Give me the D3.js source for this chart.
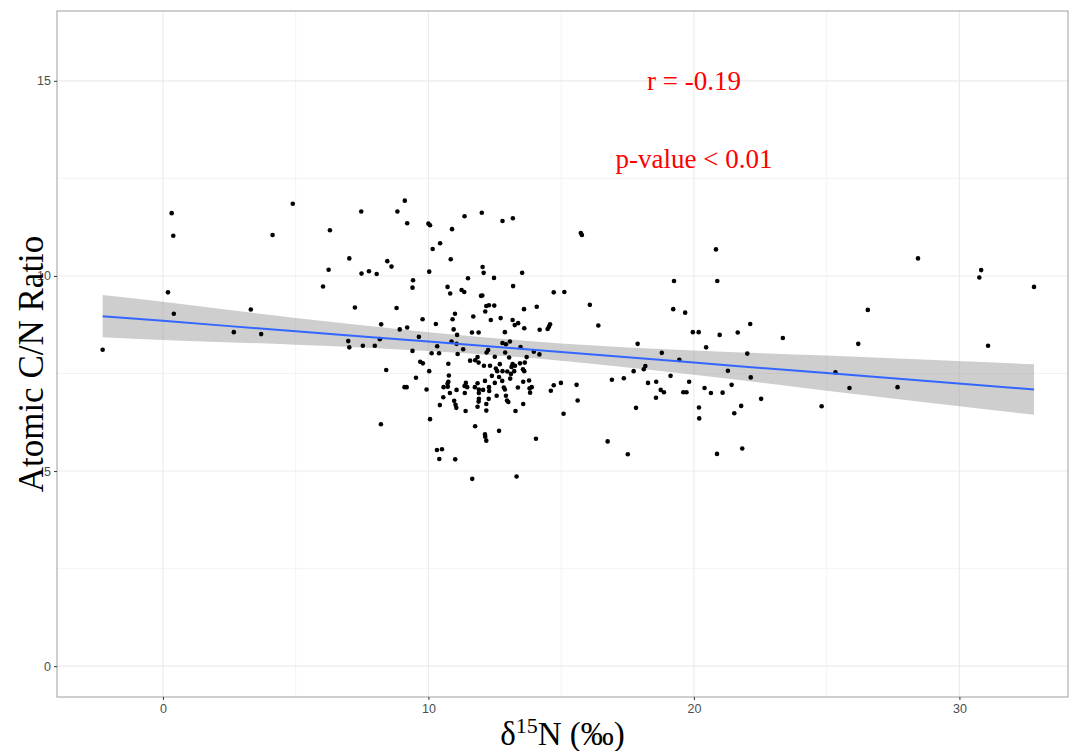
<!DOCTYPE html>
<html>
<head>
<meta charset="utf-8">
<script src="https://cdn.jsdelivr.net/npm/d3@7"></script>
<style>
  html, body { margin: 0; padding: 0; background: #fff; }
  svg { display: block; }
</style>
</head>
<body>
<div id="chart"></div>
<script>
// d15N (x) and atomic C/N (y)
const d15N = [
  0.33,0.39,4.89,7.47,4.13,6.29,7.02,6.24,7.48,7.76,
  8.05,6.03,0.19,7.23,0.41,3.31,2.67,3.70,-2.27,6.98,
  7.02,7.53,7.98,8.17,8.22,8.21,8.83,9.11,9.20,10.00,
  10.06,10.89,11.36,12.01,12.79,13.18,10.44,10.16,8.45,8.61,
  10.84,10.03,12.04,12.08,13.53,11.49,12.47,9.42,9.40,10.72,
  11.25,11.35,10.82,13.19,14.72,11.98,12.03,8.80,12.28,12.48,
  12.18,12.14,13.60,14.08,11.00,10.91,11.69,9.78,12.35,12.72,
  13.17,13.25,13.38,14.58,14.54,14.49,14.19,13.61,8.92,9.20,
  10.28,10.95,11.08,11.64,11.89,12.88,9.64,10.87,11.06,10.33,
  12.79,12.92,13.07,13.47,11.31,12.19,12.25,12.89,13.97,14.18,
  9.40,10.12,10.40,11.10,11.85,12.50,13.04,13.70,11.76,11.57,
  11.89,9.69,9.79,10.75,12.09,12.32,12.69,13.17,13.45,13.63,
  13.13,13.26,12.54,8.41,10.03,12.59,12.79,12.97,13.23,13.56,
  13.61,10.77,12.39,12.66,13.11,9.53,11.41,11.85,12.13,12.50,
  12.78,13.08,13.57,13.79,10.75,10.72,9.10,9.18,9.93,10.57,
  10.73,11.36,11.46,11.75,11.90,12.06,12.28,12.29,12.84,12.88,
  13.37,13.81,13.89,11.06,10.81,11.37,11.90,12.57,12.92,13.83,
  10.56,10.97,11.90,11.89,12.27,12.96,13.01,10.43,11.02,11.85,
  11.05,12.18,13.28,11.40,13.57,12.18,10.06,11.76,12.66,12.13,
  12.14,12.18,14.05,10.32,10.51,10.41,11.01,11.65,13.32,15.74,
  15.78,20.83,19.25,20.88,15.12,16.08,19.22,19.67,16.40,19.96,
  20.18,20.97,21.65,22.12,23.35,17.88,20.46,18.79,22.01,19.45,
  18.17,18.11,17.73,21.28,25.33,19.12,22.14,16.91,17.36,19.82,
  18.27,18.58,14.99,14.72,15.58,21.42,14.61,18.75,18.87,19.60,
  19.72,20.40,20.64,21.08,15.62,18.57,22.53,15.09,17.82,20.19,
  20.20,21.52,21.78,24.81,16.75,17.51,20.87,21.82,28.44,30.82,
  30.75,32.81,26.55,26.19,31.08,25.86,27.67
];
const cnRatio = [
  11.61,11.03,11.85,11.65,11.05,11.17,10.45,10.16,10.06,10.12,
  10.05,9.73,9.58,9.19,9.03,9.14,8.56,8.51,8.11,8.33,
  8.17,8.21,8.21,8.38,8.76,6.20,11.65,11.93,11.35,11.34,
  11.30,11.20,11.53,11.62,11.41,11.48,10.84,10.69,10.38,10.24,
  10.43,10.11,10.23,10.08,10.08,9.94,9.95,9.89,9.70,9.72,
  9.64,9.59,9.55,9.74,9.58,9.49,9.50,9.18,9.25,9.24,
  9.23,9.09,9.15,9.21,9.03,8.89,8.96,8.89,8.87,8.92,
  8.87,8.74,8.79,8.76,8.70,8.64,8.62,8.66,8.63,8.68,
  8.77,8.63,8.49,8.55,8.55,8.56,8.44,8.32,8.26,8.20,
  8.28,8.25,8.32,8.18,8.12,8.04,8.10,8.04,8.06,7.99,
  8.08,8.02,8.02,8.00,7.92,7.93,7.91,7.92,7.84,7.83,
  7.78,7.80,7.76,7.75,7.70,7.70,7.74,7.74,7.76,7.78,
  7.67,7.70,7.63,7.59,7.56,7.56,7.56,7.55,7.56,7.61,
  7.56,7.45,7.44,7.41,7.49,7.39,7.26,7.25,7.31,7.26,
  7.31,7.37,7.29,7.32,7.29,7.24,7.15,7.15,7.09,7.15,
  7.16,7.18,7.15,7.15,7.09,7.08,7.15,7.05,7.14,7.09,
  7.14,7.12,7.15,7.08,7.00,7.00,7.00,6.93,6.93,7.01,
  6.89,6.80,6.85,6.78,6.85,6.81,6.77,6.69,6.70,6.65,
  6.62,6.55,6.54,6.54,6.72,6.72,6.33,6.15,6.03,5.94,
  5.88,5.78,5.83,5.54,5.56,5.31,5.30,4.80,4.86,11.10,
  11.05,10.68,9.87,9.87,9.59,9.26,9.15,9.06,8.73,8.56,
  8.56,8.49,8.55,8.77,8.41,8.26,8.17,8.03,8.01,7.85,
  7.69,7.61,7.56,7.57,7.53,7.44,7.40,7.34,7.38,7.29,
  7.26,7.29,7.26,7.20,7.21,7.21,7.06,7.08,7.02,7.02,
  7.02,7.13,7.00,7.01,6.81,6.88,6.85,6.47,6.62,6.63,
  6.35,6.48,6.67,6.66,5.76,5.43,5.44,5.58,10.45,10.15,
  9.96,9.72,9.13,8.26,8.21,7.13,7.15
];

// lm smooth + 95% band
const fitX  = [-2.27, 0, 5, 10, 15, 20, 25, 32.81];
const fitY  = [8.97, 8.85, 8.58, 8.32, 8.05, 7.78, 7.51, 7.09];
const fitLo = [8.43, 8.36, 8.24, 8.08, 7.83, 7.47, 7.06, 6.44];
const fitHi = [9.51, 9.34, 8.92, 8.56, 8.27, 8.09, 7.96, 7.74];

const xTicks = [0, 10, 20, 30];
const xMinor = [5, 15, 25];
const yTicks = [0, 5, 10, 15];
const yMinor = [2.5, 7.5, 12.5];

const noteText = ['r = -0.19', 'p-value < 0.01'];
const noteX = [20, 20];
const noteY = [15, 13];

const width = 1070, height = 751;
const margin = {top: 11, right: 2, bottom: 54, left: 57};

const svg = d3.select('#chart')
  .append('svg')
  .attr('width', width)
  .attr('height', height);

const x = d3.scaleLinear()
  .domain([-3.99, 34.09])
  .range([margin.left, width - margin.right]);

const y = d3.scaleLinear()
  .domain([-0.79, 16.79])
  .range([height - margin.bottom, margin.top]);

const grid = svg.append('g');

grid.selectAll('.ymin').data(yMinor).join('line')
  .attr('x1', x.range()[0]).attr('x2', x.range()[1])
  .attr('y1', d => y(d)).attr('y2', d => y(d))
  .attr('stroke', '#f0f0f0').attr('stroke-width', 0.8);
grid.selectAll('.xmin').data(xMinor).join('line')
  .attr('y1', y.range()[0]).attr('y2', y.range()[1])
  .attr('x1', d => x(d)).attr('x2', d => x(d))
  .attr('stroke', '#f0f0f0').attr('stroke-width', 0.8);
grid.selectAll('.ymaj').data(yTicks).join('line')
  .attr('x1', x.range()[0]).attr('x2', x.range()[1])
  .attr('y1', d => y(d)).attr('y2', d => y(d))
  .attr('stroke', '#ebebeb').attr('stroke-width', 1.1);
grid.selectAll('.xmaj').data(xTicks).join('line')
  .attr('y1', y.range()[0]).attr('y2', y.range()[1])
  .attr('x1', d => x(d)).attr('x2', d => x(d))
  .attr('stroke', '#ebebeb').attr('stroke-width', 1.1);

// confidence band
const band = fitX.map((d, i) => ({x: d, lo: fitLo[i], hi: fitHi[i]}));
svg.append('path')
  .datum(band)
  .attr('d', d3.area()
    .x(d => x(d.x))
    .y0(d => y(d.lo))
    .y1(d => y(d.hi))
    .curve(d3.curveMonotoneX))
  .attr('fill', '#999999')
  .attr('fill-opacity', 0.48);

// points
svg.append('g')
  .selectAll('circle')
  .data(d15N.map((d, i) => [d, cnRatio[i]]))
  .join('circle')
  .attr('cx', d => x(d[0]))
  .attr('cy', d => y(d[1]))
  .attr('r', 2.3)
  .attr('fill', '#000');

// fit line
svg.append('path')
  .datum(fitX.map((d, i) => [d, fitY[i]]))
  .attr('d', d3.line().x(d => x(d[0])).y(d => y(d[1])).curve(d3.curveMonotoneX))
  .attr('fill', 'none')
  .attr('stroke', '#3366FF')
  .attr('stroke-width', 2);

// panel border
svg.append('rect')
  .attr('x', x.range()[0]).attr('y', y.range()[1])
  .attr('width', x.range()[1] - x.range()[0])
  .attr('height', y.range()[0] - y.range()[1])
  .attr('fill', 'none')
  .attr('stroke', '#9e9e9e')
  .attr('stroke-width', 1);

// axes
const xAxis = svg.append('g')
  .attr('transform', `translate(0,${y.range()[0]})`)
  .call(d3.axisBottom(x).tickValues(xTicks).tickSize(3).tickPadding(4));
const yAxis = svg.append('g')
  .attr('transform', `translate(${x.range()[0]},0)`)
  .call(d3.axisLeft(y).tickValues(yTicks).tickSize(3).tickPadding(3));

[xAxis, yAxis].forEach(a => {
  a.select('.domain').remove();
  a.selectAll('.tick line').attr('stroke', '#333333');
  a.selectAll('.tick text')
    .attr('fill', '#4d4d4d')
    .style('font-family', '"Liberation Sans", Arial, sans-serif')
    .style('font-size', '12.5px');
});

// titles
svg.append('text')
  .attr('transform', 'translate(31,364) rotate(-90)')
  .attr('text-anchor', 'middle')
  .attr('dy', '0.35em')
  .style('font-family', '"Liberation Serif", "Times New Roman", serif')
  .style('font-size', '35px')
  .text('Atomic C/N Ratio');

const xt = svg.append('text')
  .attr('x', (x.range()[0] + x.range()[1]) / 2)
  .attr('y', 745)
  .attr('text-anchor', 'middle')
  .style('font-family', '"Liberation Serif", "Times New Roman", serif')
  .style('font-size', '33px');
xt.append('tspan').text('\u03b4');
xt.append('tspan').attr('dy', -12).style('font-size', '22px').text('15');
xt.append('tspan').attr('dy', 12).text('N (\u2030)');

// annotations
svg.append('g')
  .selectAll('text')
  .data(noteText)
  .join('text')
  .attr('x', (d, i) => x(noteX[i]))
  .attr('y', (d, i) => y(noteY[i]))
  .attr('dy', '0.35em')
  .attr('text-anchor', 'middle')
  .attr('fill', '#FF0000')
  .style('font-family', '"Liberation Serif", "Times New Roman", serif')
  .style('font-size', '27px')
  .text(d => d);
</script>
</body>
</html>
